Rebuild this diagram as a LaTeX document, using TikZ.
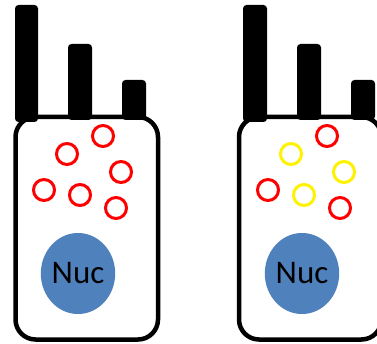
\documentclass[tikz,border=0pt]{standalone}
\usepackage{fontspec}
\setmainfont{Carlito}
\usetikzlibrary{shapes.geometric}
\definecolor{nucblue}{RGB}{79,129,189}
\tikzset{
  cellbox/.style={draw=black, line width=4.5pt, rounded corners=20pt, fill=white,
    minimum width=142.5pt, minimum height=222.5pt, inner sep=0pt},
  barbox/.style={fill=black, rounded corners=3.5pt, inner sep=0pt},
  vesicle/.style={circle, draw=#1, line width=3pt, minimum size=21pt, inner sep=0pt},
  nucleus/.style={ellipse, fill=nucblue, minimum width=72pt, minimum height=81pt,
    inner sep=0pt, font=\fontsize{33}{33}\selectfont}
}
\begin{document}
\begin{tikzpicture}[x=1pt,y=-1pt]
\useasboundingbox (0,0) rectangle (377,344);
\clip (0,0) rectangle (377,344);

% left cell
\node[cellbox] (cellL) at (86.75,228.25) {};
\node[barbox, minimum width=23pt, minimum height=117pt] (barL1) at (26.5,63.5) {};
\node[barbox, minimum width=24pt, minimum height=76pt] (barL2) at (80,82) {};
\node[barbox, minimum width=24pt, minimum height=40pt] (barL3) at (134,100) {};
\node[vesicle=red] (vL1) at (67,154) {};
\node[vesicle=red] (vL2) at (103,136) {};
\node[vesicle=red] (vL3) at (121,172) {};
\node[vesicle=red] (vL4) at (44,190) {};
\node[vesicle=red] (vL5) at (80,195) {};
\node[vesicle=red] (vL6) at (116,208) {};
\node[nucleus] (nucL) at (78,273.5) {Nuc};

% right cell
\node[cellbox] (cellR) at (310.25,228.25) {};
\node[barbox, minimum width=24pt, minimum height=117pt] (barR1) at (255,63.5) {};
\node[barbox, minimum width=24pt, minimum height=76pt] (barR2) at (309,82) {};
\node[barbox, minimum width=24pt, minimum height=40pt] (barR3) at (363,100) {};
\node[vesicle=yellow] (vR1) at (291,154) {};
\node[vesicle=red] (vR2) at (327,136) {};
\node[vesicle=yellow] (vR3) at (344,172) {};
\node[vesicle=red] (vR4) at (268,190) {};
\node[vesicle=yellow] (vR5) at (304,195) {};
\node[vesicle=red] (vR6) at (340,208) {};
\node[nucleus] (nucR) at (302,273.5) {Nuc};
\end{tikzpicture}
\end{document}
